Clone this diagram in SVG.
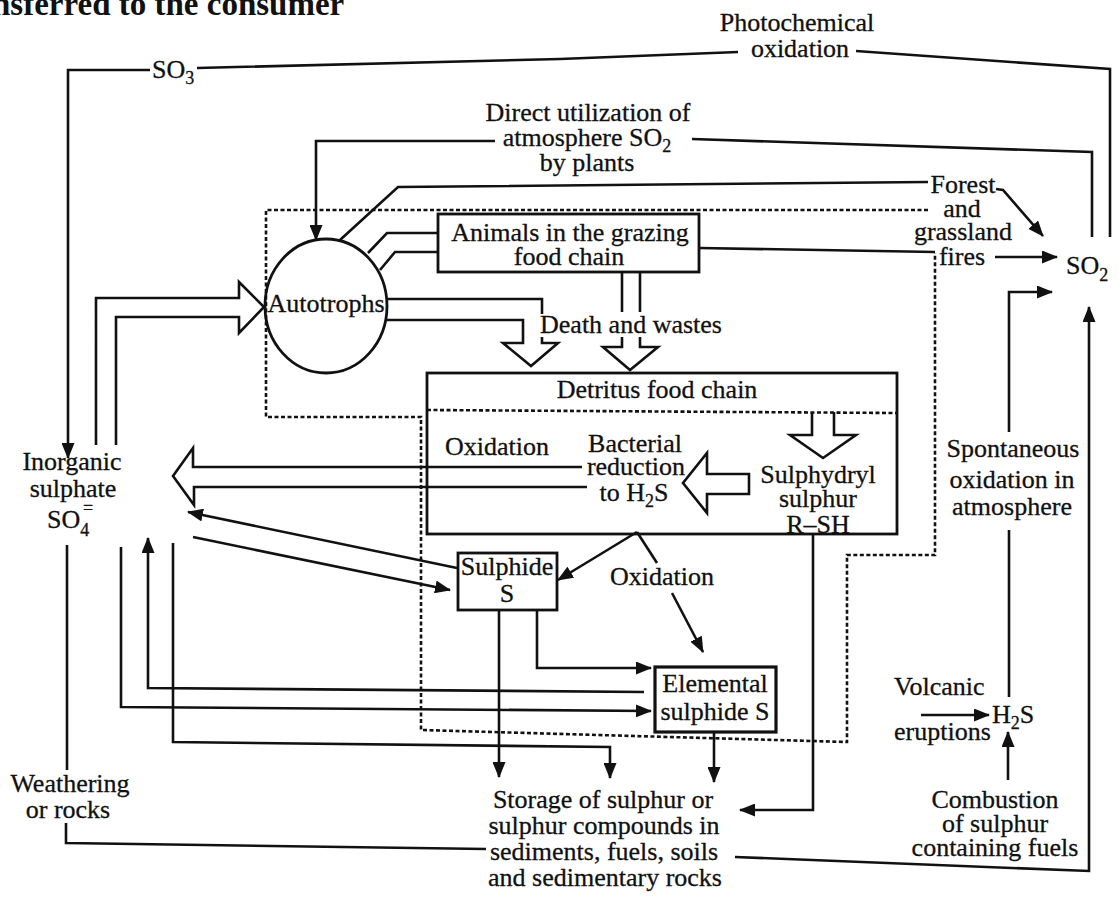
<svg xmlns="http://www.w3.org/2000/svg" width="1119" height="898" viewBox="0 0 1119 898">
<defs>
<style>
.t{font-family:"Liberation Serif","Times New Roman",serif;font-size:26px;fill:#111;stroke:#111;stroke-width:0.3}
.m{text-anchor:middle}
.sub{font-size:18px}
.ln{fill:none;stroke:#111;stroke-width:2.6;stroke-linejoin:miter}
.box{fill:none;stroke:#111;stroke-width:2.8}
.dot{fill:none;stroke:#111;stroke-width:2.6;stroke-dasharray:4 2.5}
.ar{marker-end:url(#ah)}
</style>
<marker id="ah" viewBox="0 0 16 13" refX="15" refY="6.5" markerWidth="16" markerHeight="13" orient="auto" markerUnits="userSpaceOnUse">
<path d="M0,0 L16,6.5 L0,13 z" fill="#111"/>
</marker>
</defs>
<rect x="0" y="0" width="1119" height="898" fill="#fff"/>
<text x="-8" y="15" style="font-family:'Liberation Serif',serif;font-size:33px;font-weight:bold;fill:#111">nsferred to the consumer</text>

<g id="connectors">
<path class="dot" d="M928,210 H266 V417 H421 V730 L847,742 V555 H935 V253"/>
<path class="ln ar" d="M150,70 H68 V458"/>
<path class="ln" d="M1110,237 V69 L856,51"/>
<path class="ln" d="M738,52 L560,59 L197,68"/>
<path class="ln" d="M1092,237 V152 L692,139"/>
<path class="ln ar" d="M495,141 H316 V240"/>
<path class="ln" d="M340,240 L398,187 L928,182"/>
<path class="ln" d="M368,253 L387,233 H438"/>
<path class="ln" d="M380,270 L395,252 H438"/>
<path class="ln" d="M699,248 L935,252"/>
<path class="ln ar" d="M996,189 L1003,190 L1043,236"/>
<path class="ln ar" d="M995,257 H1057"/>
<path class="ln ar" d="M1009,432 V292 H1052"/>
<path class="ln" d="M1009,530 V697"/>
<path class="ln" d="M67,545 V770"/>
<path class="ln" d="M66,823 V843 L486,849"/>
<path class="ln ar" d="M735,857 L1089,871 V307"/>
<path class="ln" d="M96,445 V298 H239 V282 L264,307 L239,333 V317 H116 V445"/>
<path class="ln" d="M387,299 H542 V314"/>
<path class="ln" d="M542,337 V343 H558 L531,366 L503,343 H523 V320 H386"/>
<path class="ln" d="M622,273 V312 M640,273 V312"/>
<path class="ln" d="M622,337 V347 H603 L630,370 L658,347 H640 V337"/>
<path class="ln" d="M812,412 V435 H790 L823,458 L856,435 H834 V412"/>
<path class="ln" d="M749,474 H707 V453 L683,483 L707,513 V494 H749 Z"/>
<path class="ln" d="M582,467 H193 V448 L173,476 L194,505 V487 H587"/>
<path class="ln ar" d="M457,568 L188,512"/>
<path class="ln ar" d="M193,537 L450,590"/>
<path class="ln ar" d="M637,532 L558,580"/>
<path class="ln" d="M637,532 L657,563"/>
<path class="ln ar" d="M672,593 L703,652"/>
<path class="ln ar" d="M537,610 V668 H651"/>
<path class="ln ar" d="M499,610 V777"/>
<path class="ln ar" d="M644,692 L148,688 V538"/>
<path class="ln ar" d="M121,547 V707 L651,711"/>
<path class="ln ar" d="M173,543 V742 L610,747 V778"/>
<path class="ln ar" d="M714,732 V782"/>
<path class="ln ar" d="M813,535 V810 H740"/>
<path class="ln ar" d="M921,715 H989"/>
<path class="ln ar" d="M1008,780 V732"/>
</g>

<g id="so3"><text class="t" x="152" y="78">SO<tspan class="sub" dy="6">3</tspan></text></g>
<g id="photochemical-oxidation">
<text class="t m" x="797" y="31">Photochemical</text>
<text class="t m" x="800" y="57">oxidation</text>
</g>
<g id="direct-utilization">
<text class="t m" x="588" y="121">Direct utilization of</text>
<text class="t m" x="587" y="146">atmosphere SO<tspan class="sub" dy="6">2</tspan></text>
<text class="t m" x="587" y="171">by plants</text>
</g>
<g id="forest-fires">
<text class="t m" x="963" y="193">Forest</text>
<text class="t m" x="962" y="217">and</text>
<text class="t m" x="963" y="240">grassland</text>
<text class="t m" x="962" y="265">fires</text>
</g>
<g id="so2"><text class="t" x="1066" y="274">SO<tspan class="sub" dy="7">2</tspan></text></g>
<g id="autotrophs">
<ellipse cx="326" cy="306" rx="61" ry="67" class="box"/>
<text class="t m" x="326" y="312">Autotrophs</text>
</g>
<g id="animals-grazing">
<rect x="438" y="214" width="261" height="58" class="box"/>
<text class="t m" x="570" y="241">Animals in the grazing</text>
<text class="t m" x="569" y="265">food chain</text>
</g>
<g id="death-wastes"><text class="t m" x="631" y="333">Death and wastes</text></g>
<g id="detritus">
<rect x="427" y="373" width="470" height="161" class="box"/>
<path class="dot" d="M427,410 L897,413"/>
<text class="t m" x="657" y="398">Detritus food chain</text>
</g>
<g id="oxidation-1"><text class="t m" x="497" y="455">Oxidation</text></g>
<g id="bacterial-reduction">
<text class="t m" x="635" y="452">Bacterial</text>
<text class="t m" x="636" y="475">reduction</text>
<text class="t m" x="634" y="501">to H<tspan class="sub" dy="6">2</tspan><tspan dy="-6">S</tspan></text>
</g>
<g id="sulphydryl">
<text class="t m" x="818" y="483">Sulphydryl</text>
<text class="t m" x="818" y="507">sulphur</text>
<text class="t m" x="818" y="533">R–SH</text>
</g>
<g id="inorganic-sulphate">
<text class="t m" x="72" y="470">Inorganic</text>
<text class="t m" x="73" y="497">sulphate</text>
<text class="t" x="47" y="528">SO<tspan class="sub" dy="8">4</tspan></text>
<text class="t sub" x="83" y="514">=</text>
</g>
<g id="spontaneous-oxidation">
<text class="t m" x="1013" y="457">Spontaneous</text>
<text class="t m" x="1012" y="488">oxidation in</text>
<text class="t m" x="1012" y="515">atmosphere</text>
</g>
<g id="sulphide">
<rect x="458" y="553" width="99" height="57" class="box"/>
<text class="t m" x="507" y="575">Sulphide</text>
<text class="t m" x="507" y="602">S</text>
</g>
<g id="oxidation-2"><text class="t m" x="662" y="585">Oxidation</text></g>
<g id="elemental-sulphide">
<rect x="655" y="667" width="121" height="65" class="box" style="stroke-width:3.2"/>
<text class="t m" x="715" y="692">Elemental</text>
<text class="t m" x="715" y="720">sulphide S</text>
</g>
<g id="volcanic-eruptions">
<text class="t" x="894" y="695">Volcanic</text>
<text class="t" x="894" y="740">eruptions</text>
</g>
<g id="h2s"><text class="t" x="992" y="723">H<tspan class="sub" dy="6">2</tspan><tspan dy="-6">S</tspan></text></g>
<g id="combustion">
<text class="t m" x="995" y="808">Combustion</text>
<text class="t m" x="995" y="832">of sulphur</text>
<text class="t m" x="995" y="856">containing fuels</text>
</g>
<g id="weathering">
<text class="t m" x="70" y="792">Weathering</text>
<text class="t m" x="68" y="818">or rocks</text>
</g>
<g id="storage">
<text class="t m" x="603" y="808">Storage of sulphur or</text>
<text class="t m" x="604" y="834">sulphur compounds in</text>
<text class="t m" x="604" y="860">sediments, fuels, soils</text>
<text class="t m" x="605" y="886">and sedimentary rocks</text>
</g>
</svg>
